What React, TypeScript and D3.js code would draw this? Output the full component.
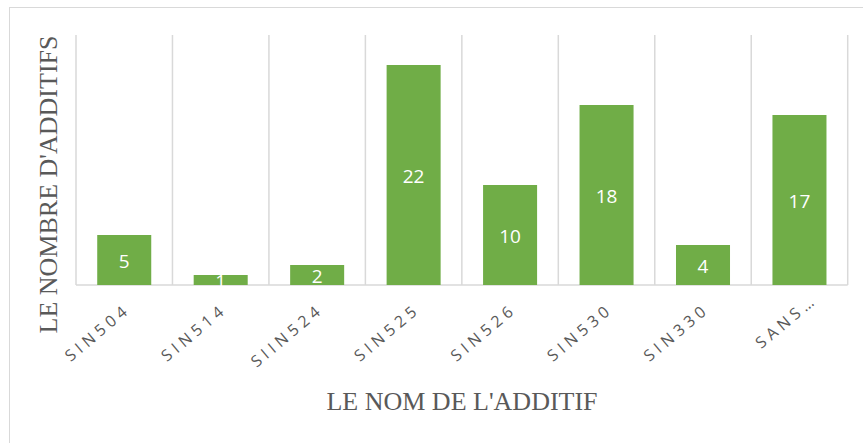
import React, { useEffect, useRef } from 'react'
import * as d3 from 'd3'

const categories = ['SIN504', 'SIN514', 'SIIN524', 'SIN525', 'SIN526', 'SIN530', 'SIN330', 'SANS…']
const values = [5, 1, 2, 22, 10, 18, 4, 17]
const yDomain = [0, 25]
const yTitle = "LE NOMBRE D'ADDITIFS"
const xTitle = "LE NOM DE L'ADDITIF"

const App = () => {
  const ref = useRef<SVGSVGElement>(null)

  useEffect(() => {
    const width = 863
    const height = 443
    const left = 76
    const right = 847.7
    const top = 35
    const bottom = 285
    const svg = d3.select(ref.current)
    svg.selectAll('*').remove()

    // cadre du graphique
    svg
      .append('rect')
      .attr('x', 9.5)
      .attr('y', 7.5)
      .attr('width', width)
      .attr('height', height)
      .attr('fill', '#fff')
      .attr('stroke', '#d9d9d9')
      .attr('stroke-width', 1)

    const xScale = d3
      .scaleBand()
      .domain(categories)
      .range([left, right])
      .paddingInner(0.44)
      .paddingOuter(0.22)

    const yScale = d3.scaleLinear().domain(yDomain).range([bottom, top])

    const step = xScale.step()
    const gridX = d3.range(categories.length + 1).map((i) => left + i * step)

    // lignes verticales
    svg
      .append('g')
      .selectAll('line')
      .data(gridX)
      .enter()
      .append('line')
      .attr('x1', (d) => d)
      .attr('x2', (d) => d)
      .attr('y1', yScale(yDomain[1]))
      .attr('y2', yScale(0))
      .attr('stroke', '#d9d9d9')
      .attr('stroke-width', 1.5)

    svg
      .append('line')
      .attr('x1', left)
      .attr('x2', right)
      .attr('y1', yScale(0))
      .attr('y2', yScale(0))
      .attr('stroke', '#d9d9d9')
      .attr('stroke-width', 1.5)

    const data = categories.map((c, i) => ({ c, v: values[i] }))

    // barres
    svg
      .append('g')
      .selectAll('rect')
      .data(data)
      .enter()
      .append('rect')
      .attr('x', (d) => xScale(d.c)!)
      .attr('y', (d) => yScale(d.v))
      .attr('width', xScale.bandwidth())
      .attr('height', (d) => yScale(0) - yScale(d.v))
      .attr('fill', '#70ad47')

    // étiquettes de données
    svg
      .append('g')
      .selectAll('text')
      .data(data)
      .enter()
      .append('text')
      .attr('x', (d) => xScale(d.c)! + xScale.bandwidth() / 2)
      .attr('y', (d) => (yScale(d.v) + yScale(0)) / 2)
      .attr('dy', '0.4em')
      .attr('text-anchor', 'middle')
      .attr('font-family', '"Open Sans", sans-serif')
      .attr('font-size', 19)
      .attr('fill', '#fff')
      .text((d) => d.v)

    // étiquettes de l'axe x
    svg
      .append('g')
      .selectAll('text')
      .data(categories)
      .enter()
      .append('text')
      .attr('transform', (d) => {
        const cx = xScale(d)! + xScale.bandwidth() / 2 + 7.5
        return `translate(${cx},${bottom + 26}) rotate(-40)`
      })
      .attr('dx', (d) => (d.endsWith('…') ? 15 : 0))
      .attr('text-anchor', 'end')
      .attr('font-family', '"Open Sans", sans-serif')
      .attr('font-size', 16)
      .attr('letter-spacing', 4.5)
      .attr('fill', '#595959')
      .text((d) => d)

    svg
      .append('text')
      .attr('transform', `translate(57,${(top + 328) / 2 + 3}) rotate(-90)`)
      .attr('text-anchor', 'middle')
      .attr('font-family', '"Liberation Serif", serif')
      .attr('font-size', 26)
      .attr('fill', '#595959')
      .text(yTitle)

    svg
      .append('text')
      .attr('x', 462)
      .attr('y', 410)
      .attr('text-anchor', 'middle')
      .attr('font-family', '"Liberation Serif", serif')
      .attr('font-size', 26)
      .attr('fill', '#595959')
      .text(xTitle)
  }, [])

  return (
    <svg
      ref={ref}
      width={863}
      height={443}
      style={{ position: 'absolute', left: 0, top: 0, background: '#fff' }}
    />
  )
}

export default App
